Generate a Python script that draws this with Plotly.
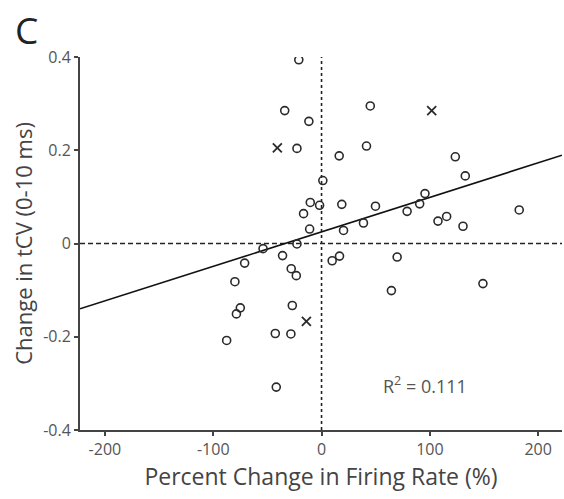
import plotly.graph_objects as go

# Circles: percent change in firing rate vs change in tCV
circle_x = [-21, -34, -11.7, -22.7, 45, 41.5, 16.3, 1.2, -10.4, -1.8, 18.7, 49.8,
            -16.6, -11, 20.3, 38.7, -54, -22.7, -71, -36, -28, -23.3, 9.8, 16.6,
            -80, -75, -78.6, -27, -87.6, -42.7, -28.3, -41.8, 123.5, 132.7, 95.5,
            90.6, 79, 107.5, 115.5, 130.6, 182.5, 69.8, 149, 64.5]
circle_y = [0.394, 0.285, 0.262, 0.204, 0.295, 0.209, 0.188, 0.135, 0.088, 0.082, 0.084, 0.080,
            0.064, 0.031, 0.028, 0.044, -0.011, -0.001, -0.042, -0.026, -0.054, -0.069, -0.037, -0.027,
            -0.082, -0.138, -0.151, -0.133, -0.208, -0.193, -0.194, -0.308, 0.186, 0.145, 0.107,
            0.085, 0.069, 0.048, 0.058, 0.037, 0.072, -0.029, -0.086, -0.101]

# Crosses
cross_x = [-40.8, 101.7, -14]
cross_y = [0.205, 0.285, -0.167]

# Linear fit
fit_slope = 0.00074
fit_intercept = 0.025
r_squared = "0.111"

x_range = [-223, 222]
y_range = [-0.4, 0.4]
x_ticks = [-200, -100, 0, 100, 200]
x_tick_text = ["-200", "-100", "0", "100", "200"]
y_ticks = [-0.4, -0.2, 0, 0.2, 0.4]
y_tick_text = ["-0.4", "-0.2", "0", "0.2", "0.4"]

fit_x = x_range
fit_y = [fit_slope * v + fit_intercept for v in fit_x]

FONT = "Open Sans"
AX = "#444444"

fig = go.Figure()

fig.add_trace(go.Scatter(x=fit_x, y=fit_y, mode="lines",
                         line=dict(color="#111111", width=1.6), hoverinfo="skip"))
fig.add_trace(go.Scatter(x=circle_x, y=circle_y, mode="markers",
                         marker=dict(symbol="circle-open", size=8, color="#2a2a2a",
                                     line=dict(width=1.6, color="#2a2a2a"))))
fig.add_trace(go.Scatter(x=cross_x, y=cross_y, mode="markers",
                         marker=dict(symbol="x-thin-open", size=9, color="#2a2a2a",
                                     line=dict(width=1.8, color="#2a2a2a"))))

fig.add_shape(type="line", xref="x", yref="paper", x0=0, x1=0, y0=0, y1=1,
              line=dict(color="#222222", width=1.6, dash="3px,3px"), layer="below")
fig.add_shape(type="line", xref="paper", yref="y", x0=0, x1=1, y0=0, y1=0,
              line=dict(color="#222222", width=1.6, dash="5px,3px"), layer="below")

fig.add_annotation(x=0.716, y=0.12, xref="paper", yref="paper",
                   xanchor="center", yanchor="middle",
                   text="R<sup>2</sup> = " + r_squared,
                   showarrow=False, font=dict(family=FONT, size=18, color="#555555"))
fig.add_annotation(x=-0.11, y=1.075, xref="paper", yref="paper", text="C",
                   xanchor="center", yanchor="middle",
                   showarrow=False, font=dict(family=FONT, size=37, color="#222222"))

fig.update_layout(
    width=564, height=499,
    margin=dict(l=80, r=2, t=57, b=69),
    paper_bgcolor="white", plot_bgcolor="white",
    showlegend=False,
    font=dict(family=FONT, color="#555555"),
    xaxis=dict(range=x_range, tickvals=x_ticks, ticktext=x_tick_text, ticks="outside",
               ticklen=4, tickcolor=AX, tickwidth=1.5, showline=True, linecolor=AX,
               linewidth=2, showgrid=False, zeroline=False,
               tickfont=dict(size=16, color="#555555"),
               title=dict(text="Percent Change in Firing Rate (%)", standoff=6,
                          font=dict(size=23, color="#444444"))),
    yaxis=dict(range=y_range, tickvals=y_ticks, ticktext=y_tick_text, ticks="outside",
               ticklen=4, tickcolor=AX, tickwidth=1.5, showline=True, linecolor=AX,
               linewidth=2, showgrid=False, zeroline=False,
               tickfont=dict(size=16, color="#555555"),
               title=dict(text="Change in tCV (0-10 ms)", standoff=4,
                          font=dict(size=22, color="#444444"))),
)

fig.write_html("out.html")
